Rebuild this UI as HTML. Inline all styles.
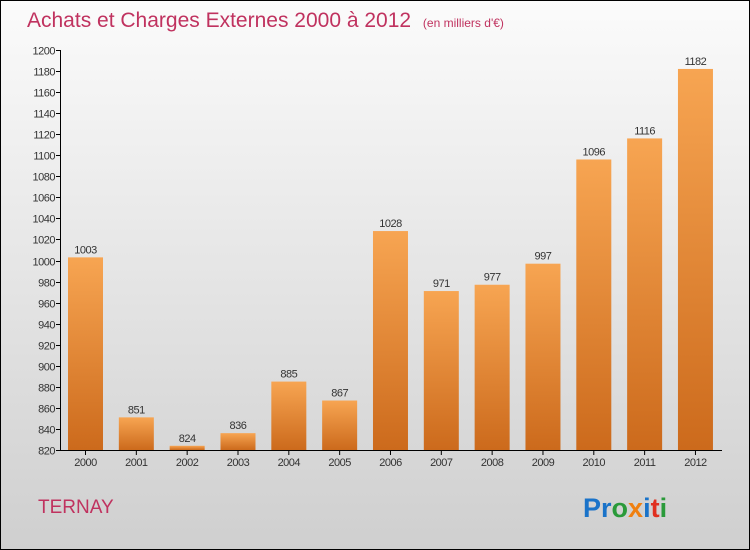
<!DOCTYPE html>
<html><head><meta charset="utf-8"><style>
body{margin:0}
svg{display:block;font-family:"Liberation Sans",sans-serif}
</style></head><body>
<svg id="c" width="750" height="550">
<defs>
<linearGradient id="bg" x1="0" y1="0" x2="0" y2="1"><stop offset="0" stop-color="#fbfbfb"/><stop offset="1" stop-color="#cfcfcf"/></linearGradient>
<linearGradient id="bar" x1="0" y1="0" x2="0" y2="1"><stop offset="0" stop-color="#f7a552"/><stop offset="1" stop-color="#cc6a1c"/></linearGradient>
</defs>
<rect x="0.5" y="0.5" width="749" height="549" fill="url(#bg)" stroke="#000"/>
<text x="27" y="27" font-size="21" fill="#c0325f">Achats et Charges Externes 2000 à 2012 <tspan font-size="12" dx="6">(en milliers d'€)</tspan></text>
<text x="38" y="513" font-size="19" fill="#c0325f">TERNAY</text>
<text x="583" y="517" font-size="27" font-weight="bold"><tspan fill="#1a73c9">Pr</tspan><tspan fill="#2a9a3a">o</tspan><tspan fill="#f08010">x</tspan><tspan fill="#1a73c9">i</tspan><tspan fill="#e03020">t</tspan><tspan fill="#2a9a3a">i</tspan></text>
<g id="axes"></g><g id="bars"></g>
</svg>
<script>
const categories=["2000","2001","2002","2003","2004","2005","2006","2007","2008","2009","2010","2011","2012"];
const values=[1003,851,824,836,885,867,1028,971,977,997,1096,1116,1182];
const yTicks=[820,840,860,880,900,920,940,960,980,1000,1020,1040,1060,1080,1100,1120,1140,1160,1180,1200];
const NS="http://www.w3.org/2000/svg";
const yMin=820,yMax=1200,plotTop=50,plotBot=450;
function y(v){return plotBot-(v-yMin)*(plotBot-plotTop)/(yMax-yMin);}
function x(i){return 85.5+i*50.83;}
function mk(t,a,p,txt){const e=document.createElementNS(NS,t);for(const k in a)e.setAttribute(k,a[k]);if(txt!=null)e.textContent=txt;p.appendChild(e);return e;}
const ax=document.getElementById('axes'),bs=document.getElementById('bars');
const yl=mk('line',{x1:60.5,x2:60.5,y1:plotTop,y2:plotBot,stroke:'#000'},ax);


const xl=mk('line',{x1:60,x2:722,y1:plotBot+0.5,y2:plotBot+0.5,stroke:'#000'},ax);


yTicks.forEach(v=>{
 const yy=Math.round(y(v))+0.5;
 mk('line',{x1:56,x2:61,y1:yy,y2:yy,stroke:'#000'},ax);
 const t=mk('text',{x:55,y:yy+4,'font-size':11,fill:'#333','text-anchor':'end','letter-spacing':'-0.5'},ax,v);
 
 
});
categories.forEach((c,i)=>{
 const cx=x(i),v=values[i],yy=y(v);
 const r=mk('rect',{x:cx-17.5,y:yy,width:35,height:plotBot-yy,fill:'url(#bar)'},bs);
 
 
 const l=mk('text',{x:cx,y:yy-4,'font-size':11,fill:'#333','text-anchor':'middle','letter-spacing':'-0.5'},bs,v);
 
 
 mk('line',{x1:cx,x2:cx,y1:plotBot,y2:plotBot+5,stroke:'#000'},ax);
 const xt=mk('text',{x:cx,y:466,'font-size':11,fill:'#333','text-anchor':'middle','letter-spacing':'-0.5'},ax,c);
 
 
});
</script>
</body></html>
